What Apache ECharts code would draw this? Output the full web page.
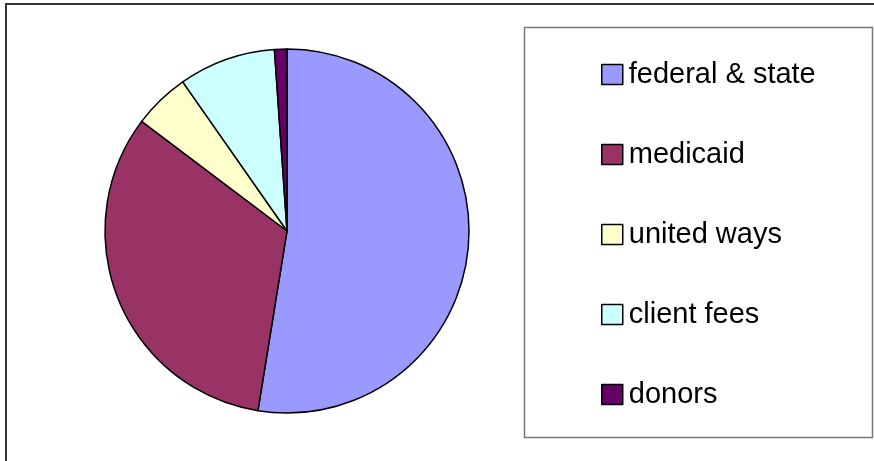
<!DOCTYPE html>
<html>
<head>
<meta charset="utf-8">
<style>html,body{margin:0;padding:0;background:#fff}#c{width:874px;height:461px}</style>
<script src="https://cdn.jsdelivr.net/npm/echarts@6/dist/echarts.min.js"></script>
</head>
<body>
<div id="c"></div>
<script>
var categories = ['federal & state', 'medicaid', 'united ways', 'client fees', 'donors'];
var values = [52.5, 32.7, 5.0, 8.6, 1.1];
var colors = ['#9999FF', '#993366', '#FFFFCC', '#CCFFFF', '#660066'];

var chart = echarts.init(document.getElementById('c'), null, {renderer: 'canvas'});
chart.setOption({
  animation: false,
  backgroundColor: '#fff',
  graphic: [
    {type: 'rect', shape: {x: 6, y: 4, width: 900, height: 500},
     style: {fill: 'none', stroke: '#333', lineWidth: 2}, silent: true, z: -10},
    {type: 'rect', shape: {x: 524.5, y: 27.5, width: 348, height: 410},
     style: {fill: 'none', stroke: '#777', lineWidth: 1.5}, silent: true, z: -10}
  ],
  legend: {
    orient: 'vertical',
    left: 596,
    top: 55,
    itemWidth: 21,
    itemHeight: 20,
    itemGap: 51,
    icon: 'rect',
    selectedMode: false,
    itemStyle: {borderColor: '#000', borderWidth: 1.5},
    textStyle: {fontFamily: 'Liberation Sans, Arial, sans-serif', fontSize: 29, color: '#000', lineHeight: 29, padding: [0, 0, 0, 1]},
    data: categories
  },
  series: [{
    type: 'pie',
    center: [287, 231],
    radius: [0, 182],
    startAngle: 90,
    clockwise: true,
    label: {show: false},
    labelLine: {show: false},
    emphasis: {disabled: true},
    itemStyle: {borderColor: '#000', borderWidth: 1.5},
    data: categories.map(function (n, i) {
      return {name: n, value: values[i], itemStyle: {color: colors[i]}};
    })
  }]
});
</script>
</body>
</html>
